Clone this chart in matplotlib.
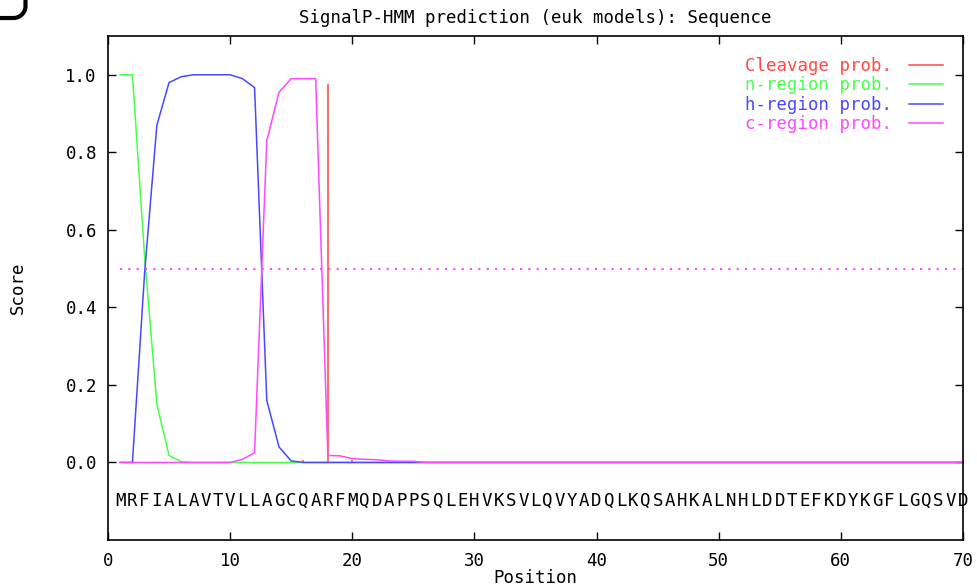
import numpy as np
import matplotlib.pyplot as plt
from matplotlib.lines import Line2D

# Data (posisi 1..70)
sequence = "MRFIALAVTVLLAGCQARFMQDAPPSQLEHVKSVLQVYADQLKQSAHKALNHLDDTEFKDYKGFLGQSVD"
positions = np.arange(1, len(sequence) + 1)

cleavage = np.zeros(70)
cleavage[15] = 0.006   # posisi 16
cleavage[17] = 0.976   # posisi 18
cleavage[19] = 0.007   # posisi 20

n_region = np.zeros(70)
n_region[:6] = [1.0, 1.0, 0.53, 0.15, 0.018, 0.002]

h_region = np.zeros(70)
h_region[:15] = [0.0, 0.0, 0.49, 0.87, 0.98, 0.995, 1.0, 1.0, 1.0, 1.0,
                 0.99, 0.967, 0.16, 0.04, 0.004]

c_region = np.zeros(70)
c_region[10:25] = [0.008, 0.025, 0.83, 0.955, 0.99, 0.99, 0.99, 0.018,
                   0.017, 0.01, 0.008, 0.007, 0.004, 0.003, 0.003]

threshold = np.full(70, 0.5)

labels = ["Cleavage prob.", "n-region prob.", "h-region prob.", "c-region prob."]
warna = ["#ff4848", "#48ff48", "#4848ff", "#ff48ff"]

mono = "DejaVu Sans Mono"
plt.rcParams["font.family"] = mono
fs = 12.5

fig = plt.figure(figsize=(9.77, 5.87), dpi=100)
ax = fig.add_axes([108 / 977, 47 / 587, 855 / 977, 504 / 587])

ax.vlines(positions, 0, cleavage, color=warna[0], lw=1.1)
l1, = ax.plot([], [], color=warna[0], lw=1.1)
l2, = ax.plot(positions, n_region, color=warna[1], lw=1.1)
l3, = ax.plot(positions, h_region, color=warna[2], lw=1.1)
l4, = ax.plot(positions, c_region, color=warna[3], lw=1.1)
ax.plot(positions, threshold, color=warna[3], lw=1.5, linestyle=(0, (1, 3)))

# urutan asam amino di bawah grafik
for p, huruf in zip(positions, sequence):
    ax.text(p, -0.1, huruf, ha="center", va="center", fontsize=fs, family=mono)

ax.set_xlim(0, 70)
ax.set_ylim(-0.2, 1.1)
ax.set_xticks(np.arange(0, 71, 10))
ax.set_yticks(np.arange(0, 1.01, 0.2))
ax.set_yticklabels([f"{v:.1f}" for v in np.arange(0, 1.01, 0.2)])
ax.tick_params(direction="in", length=6, width=1.0, top=True, right=True,
               labelsize=fs, color="black")
ax.tick_params(axis="y", pad=8)
ax.tick_params(axis="x", pad=9)
for s in ax.spines.values():
    s.set_linewidth(1.2)

leg = ax.legend([l1, l2, l3, l4], labels, loc="upper right",
                bbox_to_anchor=(0.985, 0.972), frameon=False, markerfirst=False,
                handlelength=1.95, handletextpad=1.0, labelspacing=0.08,
                fontsize=fs, labelcolor=warna, borderaxespad=0)

fig.text(535 / 977, 1 - 18 / 587, "SignalP-HMM prediction (euk models): Sequence",
         ha="center", va="center", fontsize=fs)
fig.text(535 / 977, 1 - 578 / 587, "Position", ha="center", va="center", fontsize=fs)
fig.text(18 / 977, 1 - 288 / 587, "Score", ha="center", va="center",
         rotation=90, fontsize=fs)

# potongan label panel di pojok kiri atas (hanya lengkungnya yang terlihat)
t = np.linspace(np.pi / 2, 0, 30)
px = np.concatenate([[-5], 13.5 + 12 * np.cos(t), [25.5]])
py = np.concatenate([[18], 6 + 12 * np.sin(t), [-5]])
fig.add_artist(Line2D(px / 977, 1 - py / 587, color="black", lw=3.0,
                      transform=fig.transFigure, solid_capstyle="butt"))

fig.savefig("out.png", dpi=100)
